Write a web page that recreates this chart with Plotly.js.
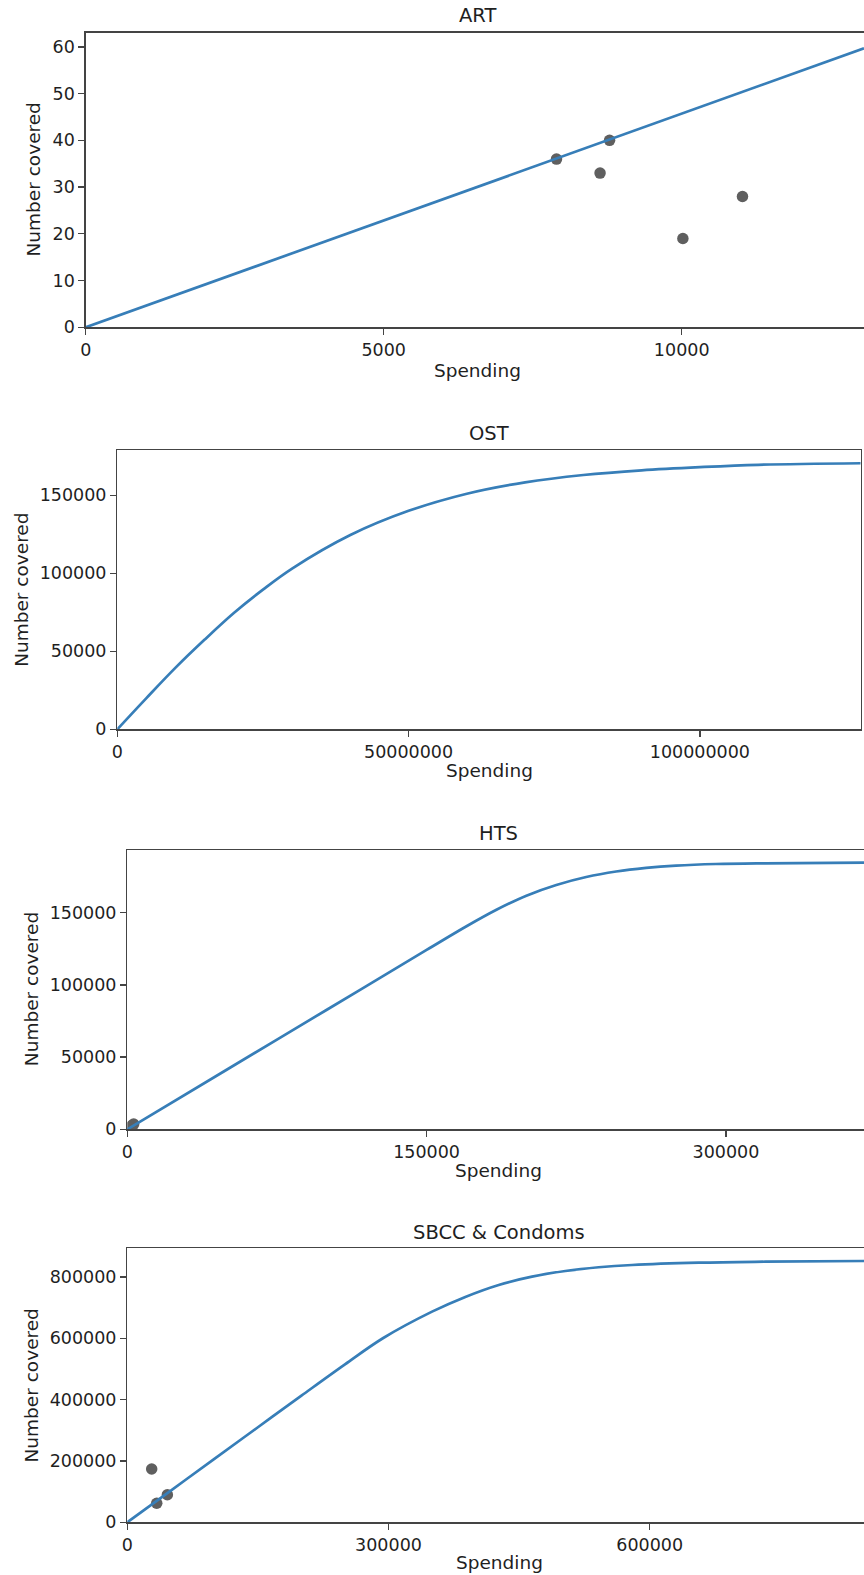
<!DOCTYPE html>
<html>
<head>
<meta charset="utf-8">
<script src="https://cdn.plot.ly/plotly-3.0.1.min.js"></script>
<style>
  html, body { margin: 0; padding: 0; background: #ffffff; overflow: hidden; }
  #chart { width: 864px; height: 1575px; }
</style>
</head>
<body>
<div id="chart"></div>
<script>
// ---------------- DATA ----------------
const panelTitles = ["ART", "OST", "HTS", "SBCC & Condoms"];
const xLabel = "Spending";
const yLabel = "Number covered";

// ART
const art_spend = [7900, 8630, 8790, 10020, 11020];
const art_cov = [36, 33, 40, 19, 28];
const art_curve_x = [0, 13059];
const art_curve_y = [0, 59.7];
const art_xticks = [0, 5000, 10000];
const art_yticks = [0, 10, 20, 30, 40, 50, 60];

// OST
const ost_curve_x = [0, 5000000, 10000000, 15000000, 20000000, 25000000, 30000000, 40000000, 50000000, 60000000, 70000000, 80000000, 90000000, 100000000, 110000000, 127600000];
const ost_curve_y = [0, 20000, 39500, 57500, 74500, 89500, 103000, 124500, 140000, 151000, 158300, 163000, 166000, 168000, 169500, 170500];
const ost_xticks = [0, 50000000, 100000000];
const ost_yticks = [0, 50000, 100000, 150000];

// HTS
const hts_spend = [2400, 3200];
const hts_cov = [2800, 3600];
const hts_curve_x = [0, 50000, 100000, 150000, 170000, 185000, 200000, 215000, 230000, 245000, 260000, 275000, 295000, 320000, 369200];
const hts_curve_y = [0, 41400, 82800, 124200, 140600, 152000, 161800, 169200, 174700, 178500, 181000, 182600, 183700, 184200, 184600];
const hts_xticks = [0, 150000, 300000];
const hts_yticks = [0, 50000, 100000, 150000];

// SBCC & Condoms
const sbcc_spend = [28000, 33800, 46000];
const sbcc_cov = [173800, 62000, 90000];
const sbcc_curve_x = [0, 50000, 100000, 150000, 200000, 250000, 294000, 350000, 388200, 426600, 464800, 503100, 541400, 579700, 656300, 732800, 846100];
const sbcc_curve_y = [0, 103500, 207000, 310000, 413000, 515000, 601000, 687000, 735000, 774000, 801000, 819500, 831600, 839100, 846600, 849800, 852100];
const sbcc_xticks = [0, 300000, 600000];
const sbcc_yticks = [0, 200000, 400000, 600000, 800000];

// ---------------- STYLE ----------------
const W = 864, H = 1575;
const LINE_COLOR = "#377eb8";
const DOT_COLOR = "#5f5f5f";
const AXIS_COLOR = "#444444";
const TEXT_COLOR = "#1f1f1f";
const FONT = "DejaVu Sans, sans-serif";
const px = v => v / W;
const py = v => 1 - v / H;

function dots(x, y, xa, ya) {
  return { x: x, y: y, xaxis: xa, yaxis: ya, type: "scatter", mode: "markers",
    marker: { color: DOT_COLOR, size: 11.5 }, hoverinfo: "x+y", showlegend: false, cliponaxis: true };
}
function curve(x, y, xa, ya) {
  return { x: x, y: y, xaxis: xa, yaxis: ya, type: "scatter", mode: "lines",
    line: { color: LINE_COLOR, width: 2.7, shape: "spline", smoothing: 1.0 }, hoverinfo: "x+y", showlegend: false };
}

const traces = [
  dots(art_spend, art_cov, "x", "y"),
  curve(art_curve_x, art_curve_y, "x", "y"),
  curve(ost_curve_x, ost_curve_y, "x2", "y2"),
  dots(hts_spend, hts_cov, "x3", "y3"),
  curve(hts_curve_x, hts_curve_y, "x3", "y3"),
  dots(sbcc_spend, sbcc_cov, "x4", "y4"),
  curve(sbcc_curve_x, sbcc_curve_y, "x4", "y4")
];

function xaxis(domain, range, ticks, anchor) {
  return { domain: domain, range: range, anchor: anchor, tickmode: "array", tickvals: ticks,
    tickformat: "d", ticks: "outside", ticklen: 6, tickwidth: 1.3, tickcolor: AXIS_COLOR,
    showline: true, linecolor: AXIS_COLOR, linewidth: 1.3, mirror: true,
    showgrid: false, zeroline: false, fixedrange: true,
    tickfont: { family: FONT, size: 17.5, color: TEXT_COLOR } };
}
function yaxis(domain, range, ticks, anchor, mirror) {
  return { domain: domain, range: range, anchor: anchor, tickmode: "array", tickvals: ticks,
    tickformat: "d", ticks: "outside", ticklen: 6, tickwidth: 1.3, tickcolor: AXIS_COLOR,
    showline: true, linecolor: AXIS_COLOR, linewidth: 1.3, mirror: mirror,
    showgrid: false, zeroline: false, fixedrange: true,
    tickfont: { family: FONT, size: 17.5, color: TEXT_COLOR } };
}

// pixel geometry of each panel (left, right, top, bottom) and text positions
const P = [
  { l: 85.7, r: 864, t: 32.7, b: 327.3, cx: 478, tt: 15.8, xl: 371, yl: 32.5 },
  { l: 117.3, r: 860.7, t: 450, b: 729.3, cx: 489.3, tt: 433.7, xl: 770.7, yl: 21.2 },
  { l: 127.3, r: 864, t: 850, b: 1129.3, cx: 498.7, tt: 833.7, xl: 1170.7, yl: 31.5 },
  { l: 127.3, r: 864, t: 1248.3, b: 1522.3, cx: 499, tt: 1232.5, xl: 1562.4, yl: 31.2 }
];
const dx = p => [px(p.l), px(p.r)];
const dy = p => [py(p.b), py(p.t)];

const annotations = [];
P.forEach((p, i) => {
  annotations.push({ text: panelTitles[i], xref: "paper", yref: "paper", x: px(p.cx), y: py(p.tt),
    xanchor: "center", yanchor: "middle", showarrow: false,
    font: { family: FONT, size: 19.5, color: TEXT_COLOR } });
  annotations.push({ text: xLabel, xref: "paper", yref: "paper", x: px(p.cx), y: py(p.xl),
    xanchor: "center", yanchor: "middle", showarrow: false,
    font: { family: FONT, size: 18.5, color: TEXT_COLOR } });
  annotations.push({ text: yLabel, xref: "paper", yref: "paper", x: px(p.yl), y: py((p.t + p.b) / 2),
    xanchor: "center", yanchor: "middle", showarrow: false, textangle: -90,
    font: { family: FONT, size: 18.5, color: TEXT_COLOR } });
});

const layout = {
  width: W, height: H,
  margin: { l: 0, r: 0, t: 0, b: 0, pad: 0 },
  paper_bgcolor: "#ffffff", plot_bgcolor: "#ffffff",
  showlegend: false,
  font: { family: FONT, color: TEXT_COLOR },
  xaxis: xaxis(dx(P[0]), [0, 13059], art_xticks, "y"),
  yaxis: yaxis(dy(P[0]), [0, 63.04], art_yticks, "x", false),
  xaxis2: xaxis(dx(P[1]), [0, 127600000], ost_xticks, "y2"),
  yaxis2: yaxis(dy(P[1]), [0, 179000], ost_yticks, "x2", true),
  xaxis3: xaxis(dx(P[2]), [0, 369200], hts_xticks, "y3"),
  yaxis3: yaxis(dy(P[2]), [0, 193400], hts_yticks, "x3", false),
  xaxis4: xaxis(dx(P[3]), [0, 846100], sbcc_xticks, "y4"),
  yaxis4: yaxis(dy(P[3]), [0, 893500], sbcc_yticks, "x4", false),
  annotations: annotations
};

Plotly.newPlot("chart", traces, layout, { displayModeBar: false, staticPlot: true });
</script>
</body>
</html>
